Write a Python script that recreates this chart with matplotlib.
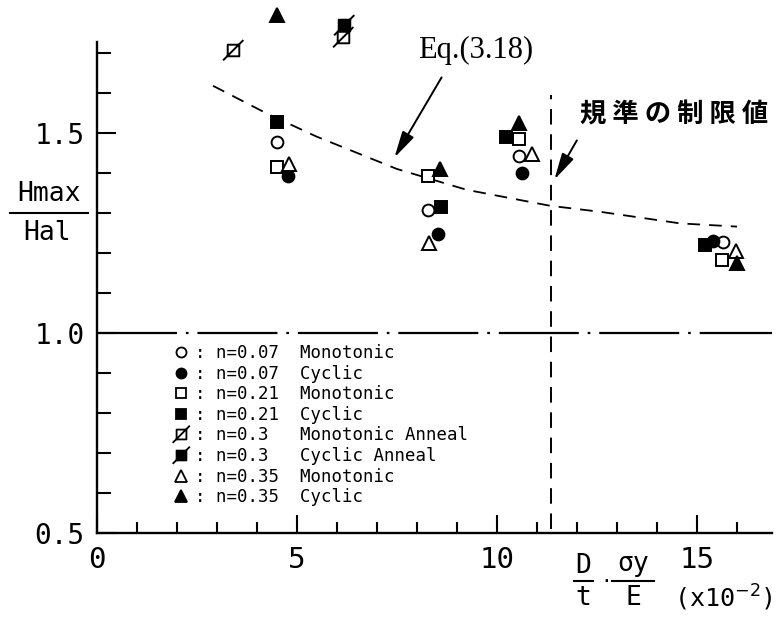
import matplotlib
matplotlib.use('Agg')
import matplotlib.pyplot as plt
from matplotlib.path import Path
from matplotlib.lines import Line2D
from matplotlib.ticker import MultipleLocator

# ---------------- data ----------------
x_n007_mono = [4.49, 8.28, 10.55, 15.66]
y_n007_mono = [1.477, 1.3075, 1.443, 1.228]
x_n007_cyc = [4.78, 8.53, 10.62, 15.41]
y_n007_cyc = [1.393, 1.247, 1.399, 1.231]
x_n021_mono = [4.49, 8.28, 10.56, 15.62]
y_n021_mono = [1.414, 1.3925, 1.484, 1.1825]
x_n021_cyc = [4.49, 8.59, 10.22, 15.20]
y_n021_cyc = [1.528, 1.314, 1.489, 1.220]
x_n03_mono_ann = [3.40, 6.15]
y_n03_mono_ann = [1.7075, 1.740]
x_n03_cyc_ann = [6.17]
y_n03_cyc_ann = [1.770]
x_n035_mono = [4.81, 8.30, 10.88, 15.98]
y_n035_mono = [1.4225, 1.224, 1.4475, 1.206]
x_n035_cyc = [4.49, 8.575, 10.56, 15.99]
y_n035_cyc = [1.795, 1.410, 1.526, 1.174]

# Eq.(3.18) curve
eq_x = [2.90, 4.24, 5.49, 7.50, 9.24, 11.33, 12.58, 14.58, 16.00]
eq_y = [1.618, 1.549, 1.491, 1.410, 1.358, 1.318, 1.303, 1.274, 1.266]

limit_x = 11.35          # code limit value (vertical dashed line)
ref_y = 1.0              # reference line

legend_labels = [": n=0.07  Monotonic",
                 ": n=0.07  Cyclic",
                 ": n=0.21  Monotonic",
                 ": n=0.21  Cyclic",
                 ": n=0.3   Monotonic Anneal",
                 ": n=0.3   Cyclic Anneal",
                 ": n=0.35  Monotonic",
                 ": n=0.35  Cyclic"]

x_ticks = [0, 5, 10, 15]
x_ticklabels = ["0", "5", "10", "15"]
y_ticks = [0.5, 1.0, 1.5]
y_ticklabels = ["0.5", "1.0", "1.5"]

# ---------------- figure ----------------
W, H = 781, 620
fig = plt.figure(figsize=(W / 100, H / 100), dpi=100)
fig.patch.set_facecolor('white')


def fx(px):
    return px / W


def fy(py):
    return 1 - py / H


ax = fig.add_axes([fx(97), fy(533), (772 - 97) / W, (533 - 42) / H])
ax.set_xlim(0, 16.875)
ax.set_ylim(0.5, 1.7275)
for s in ['top', 'right']:
    ax.spines[s].set_visible(False)
for s in ['left', 'bottom']:
    ax.spines[s].set_linewidth(1.7)

mono = 'DejaVu Sans Mono'
ax.set_xticks(x_ticks)
ax.set_xticklabels(x_ticklabels, fontfamily=mono, fontsize=21)
ax.set_yticks(y_ticks)
ax.set_yticklabels(y_ticklabels, fontfamily=mono, fontsize=20)
ax.xaxis.set_minor_locator(MultipleLocator(1))
ax.yaxis.set_minor_locator(MultipleLocator(0.1))
ax.tick_params(axis='both', which='both', direction='in', width=1.5, color='black')
ax.tick_params(axis='x', which='major', length=13, pad=9)
ax.tick_params(axis='x', which='minor', length=8)
ax.tick_params(axis='y', which='major', length=14, pad=9)
ax.tick_params(axis='y', which='minor', length=10)

# slashed square marker
slash_sq = Path([(-0.5, -0.5), (0.5, -0.5), (0.5, 0.5), (-0.5, 0.5), (-0.5, -0.5),
                 (-0.9, -0.85), (0.85, 0.9)],
                [Path.MOVETO, Path.LINETO, Path.LINETO, Path.LINETO, Path.CLOSEPOLY,
                 Path.MOVETO, Path.LINETO])

styles = [
    dict(marker='o', ms=8.5, mfc='white'),
    dict(marker='o', ms=8.5, mfc='black'),
    dict(marker='s', ms=8.0, mfc='white'),
    dict(marker='s', ms=8.0, mfc='black'),
    dict(marker=slash_sq, ms=15.0, mfc='white'),
    dict(marker=slash_sq, ms=15.0, mfc='black'),
    dict(marker='^', ms=9.5, mfc='white'),
    dict(marker='^', ms=9.5, mfc='black'),
]
series = [(x_n007_mono, y_n007_mono), (x_n007_cyc, y_n007_cyc),
          (x_n021_mono, y_n021_mono), (x_n021_cyc, y_n021_cyc),
          (x_n03_mono_ann, y_n03_mono_ann), (x_n03_cyc_ann, y_n03_cyc_ann),
          (x_n035_mono, y_n035_mono), (x_n035_cyc, y_n035_cyc)]

# reference lines
ax.plot([0, 16.875], [ref_y, ref_y], color='black', lw=1.6,
        linestyle=(0, (36, 4, 1.2, 4)), zorder=2, clip_on=False)
ax.plot([limit_x, limit_x], [0.51, 1.595], color='black', lw=1.4,
        linestyle=(0, (8, 5)), zorder=2, clip_on=False)
ax.plot(eq_x, eq_y, color='black', lw=1.3, linestyle=(0, (7, 5)), zorder=2)

for (xs, ys), st in zip(series, styles):
    ax.plot(xs, ys, linestyle='none', marker=st['marker'], markersize=st['ms'],
            markerfacecolor=st['mfc'], markeredgecolor='black', markeredgewidth=1.4,
            zorder=4, clip_on=False)

# legend
handles = []
for st in styles:
    scale = 0.85
    handles.append(Line2D([], [], linestyle='none', marker=st['marker'],
                          markersize=st['ms'] * scale, markerfacecolor=st['mfc'],
                          markeredgecolor='black', markeredgewidth=1.3))
leg = ax.legend(handles, legend_labels, loc='upper left',
                bbox_to_anchor=(fx(172), fy(344)), bbox_transform=fig.transFigure,
                frameon=False, prop={'family': mono, 'size': 12.5},
                handlelength=1.0, handletextpad=0.3, labelspacing=0.15,
                borderpad=0, borderaxespad=0)

# annotations
fig.text(fx(476), fy(50), "Eq.(3.18)", family='Liberation Serif', fontsize=22,
         ha='center', va='center')
ax.annotate("", xy=(7.40, 1.4325), xytext=(8.65, 1.645),
            arrowprops=dict(arrowstyle='-|>,head_length=0.9,head_width=0.22',
                            color='black', lw=1.4, mutation_scale=18),
            annotation_clip=False)
fig.text(fx(674), fy(115), "規 準 の 制 限 値", family=['Noto Sans CJK JP', 'DejaVu Sans'],
         fontsize=19, fontweight='bold', ha='center', va='center')
ax.annotate("", xy=(11.40, 1.3775), xytext=(12.03, 1.4875),
            arrowprops=dict(arrowstyle='-|>,head_length=0.9,head_width=0.22',
                            color='black', lw=1.4, mutation_scale=18),
            annotation_clip=False)

# y label as a fraction
fig.text(fx(49), fy(194), "Hmax", family=mono, fontsize=19, ha='center', va='center')
fig.text(fx(47), fy(233), "Hal", family=mono, fontsize=19, ha='center', va='center')
fig.add_artist(Line2D([fx(10), fx(88)], [fy(213), fy(213)], color='black', lw=1.5,
                      transform=fig.transFigure))

# x label
fig.text(fx(583), fy(566), "D", family=mono, fontsize=19, ha='center', va='center')
fig.text(fx(583), fy(598), "t", family=mono, fontsize=19, ha='center', va='center')
fig.add_artist(Line2D([fx(574), fx(593)], [fy(581), fy(581)], color='black', lw=1.5,
                      transform=fig.transFigure))
fig.text(fx(606), fy(582), "·", family=mono, fontsize=14, ha='center', va='center')
fig.text(fx(633), fy(564), "σy", family=mono, fontsize=19, ha='center', va='center')
fig.text(fx(633), fy(598), "E", family=mono, fontsize=19, ha='center', va='center')
fig.add_artist(Line2D([fx(612), fx(654)], [fy(581), fy(581)], color='black', lw=1.5,
                      transform=fig.transFigure))
fig.text(fx(674), fy(598), "(x10$^{-2}$)", family=mono, fontsize=18, ha='left',
         va='center')

fig.savefig('out.png', dpi=100, facecolor='white')
